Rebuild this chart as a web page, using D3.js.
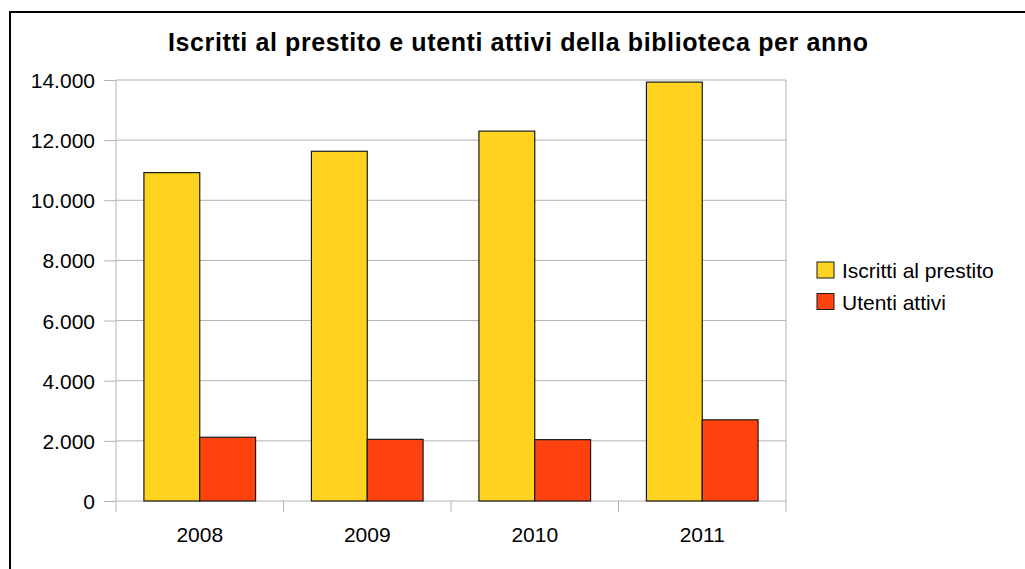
<!DOCTYPE html>
<html>
<head>
<meta charset="utf-8">
<script src="https://cdn.jsdelivr.net/npm/d3@7"></script>
<style>
  body { margin: 0; background: #fff; }
  text { font-family: "Liberation Sans", Arial, sans-serif; fill: #000; }
</style>
</head>
<body>
<div id="chart"></div>
<script>
const width = 1025;
const height = 569;

const years = ["2008", "2009", "2010", "2011"];
const seriesNames = ["Iscritti al prestito", "Utenti attivi"];
const iscritti = [10920, 11630, 12300, 13930];
const utenti = [2120, 2050, 2040, 2700];
const yTicks = [0, 2000, 4000, 6000, 8000, 10000, 12000, 14000];
const colors = ["#ffd320", "#ff420e"];

const rows = years.map((y, i) => ({ year: y, values: [iscritti[i], utenti[i]] }));

const itFormat = d3.formatLocale({ decimal: ",", thousands: ".", grouping: [3], currency: ["", " €"] }).format(",d");

const svg = d3.select("#chart")
  .append("svg")
  .attr("width", width)
  .attr("height", height);

// outer frame (cut off at right and bottom)
svg.append("rect")
  .attr("x", 10).attr("y", 12)
  .attr("width", 1040).attr("height", 600)
  .attr("fill", "none")
  .attr("stroke", "#000")
  .attr("stroke-width", 2);

const plot = { left: 116, right: 786, top: 80, bottom: 501 };

const x = d3.scaleBand()
  .domain(years)
  .range([plot.left, plot.right]);

const x1 = d3.scaleBand()
  .domain(d3.range(seriesNames.length))
  .range([0, x.bandwidth()])
  .paddingOuter(0.5);

const y = d3.scaleLinear()
  .domain([0, 14000])
  .range([plot.bottom, plot.top]);

// gridlines
svg.append("g")
  .selectAll("line")
  .data(yTicks)
  .enter().append("line")
  .attr("x1", plot.left).attr("x2", plot.right)
  .attr("y1", d => y(d)).attr("y2", d => y(d))
  .attr("stroke", "#b3b3b3");

// plot side borders
svg.append("g")
  .selectAll("line")
  .data([plot.left, plot.right])
  .enter().append("line")
  .attr("x1", d => d).attr("x2", d => d)
  .attr("y1", plot.top).attr("y2", plot.bottom + 11)
  .attr("stroke", "#b3b3b3");

// category boundary ticks
svg.append("g")
  .selectAll("line")
  .data(years.slice(1))
  .enter().append("line")
  .attr("x1", d => x(d)).attr("x2", d => x(d))
  .attr("y1", plot.bottom).attr("y2", plot.bottom + 11)
  .attr("stroke", "#b3b3b3");

// y axis
const yAxis = svg.append("g")
  .attr("transform", `translate(${plot.left},0)`)
  .call(d3.axisLeft(y).tickValues(yTicks).tickFormat(itFormat).tickSize(12).tickPadding(9));
yAxis.select(".domain").remove();
yAxis.selectAll(".tick line").attr("stroke", "#b3b3b3");
yAxis.selectAll(".tick text")
  .attr("dy", "0.36em")
  .style("font-size", "21px")
  .style("font-family", "'Liberation Sans', Arial, sans-serif")
  .attr("fill", "#000");

// x axis labels
const xAxis = svg.append("g")
  .attr("transform", `translate(0,${plot.bottom})`)
  .call(d3.axisBottom(x).tickSize(0).tickPadding(26));
xAxis.select(".domain").remove();
xAxis.selectAll(".tick text")
  .style("font-size", "21px")
  .style("font-family", "'Liberation Sans', Arial, sans-serif")
  .attr("fill", "#000");

// bars
svg.append("g")
  .selectAll("g")
  .data(rows)
  .enter().append("g")
  .attr("transform", d => `translate(${x(d.year)},0)`)
  .selectAll("rect")
  .data(d => d.values.map((v, i) => ({ i, v })))
  .enter().append("rect")
  .attr("x", d => x1(d.i))
  .attr("width", x1.bandwidth())
  .attr("y", d => y(d.v))
  .attr("height", d => y(0) - y(d.v))
  .attr("fill", d => colors[d.i])
  .attr("stroke", "#1a1a1a")
  .attr("stroke-width", 1.2);

// title
svg.append("text")
  .attr("x", 518)
  .attr("y", 51)
  .attr("text-anchor", "middle")
  .attr("textLength", 700)
  .attr("lengthAdjust", "spacing")
  .style("font-size", "25px")
  .style("font-weight", "bold")
  .text("Iscritti al prestito e utenti attivi della biblioteca per anno");

// legend
const legend = svg.append("g")
  .selectAll("g")
  .data(seriesNames)
  .enter().append("g")
  .attr("transform", (d, i) => `translate(817,${262 + i * 31.5})`);

legend.append("rect")
  .attr("width", 17)
  .attr("height", 16)
  .attr("fill", (d, i) => colors[i])
  .attr("stroke", "#1a1a1a");

legend.append("text")
  .attr("x", 25)
  .attr("y", 16)
  .style("font-size", "21px")
  .text(d => d);
</script>
</body>
</html>
